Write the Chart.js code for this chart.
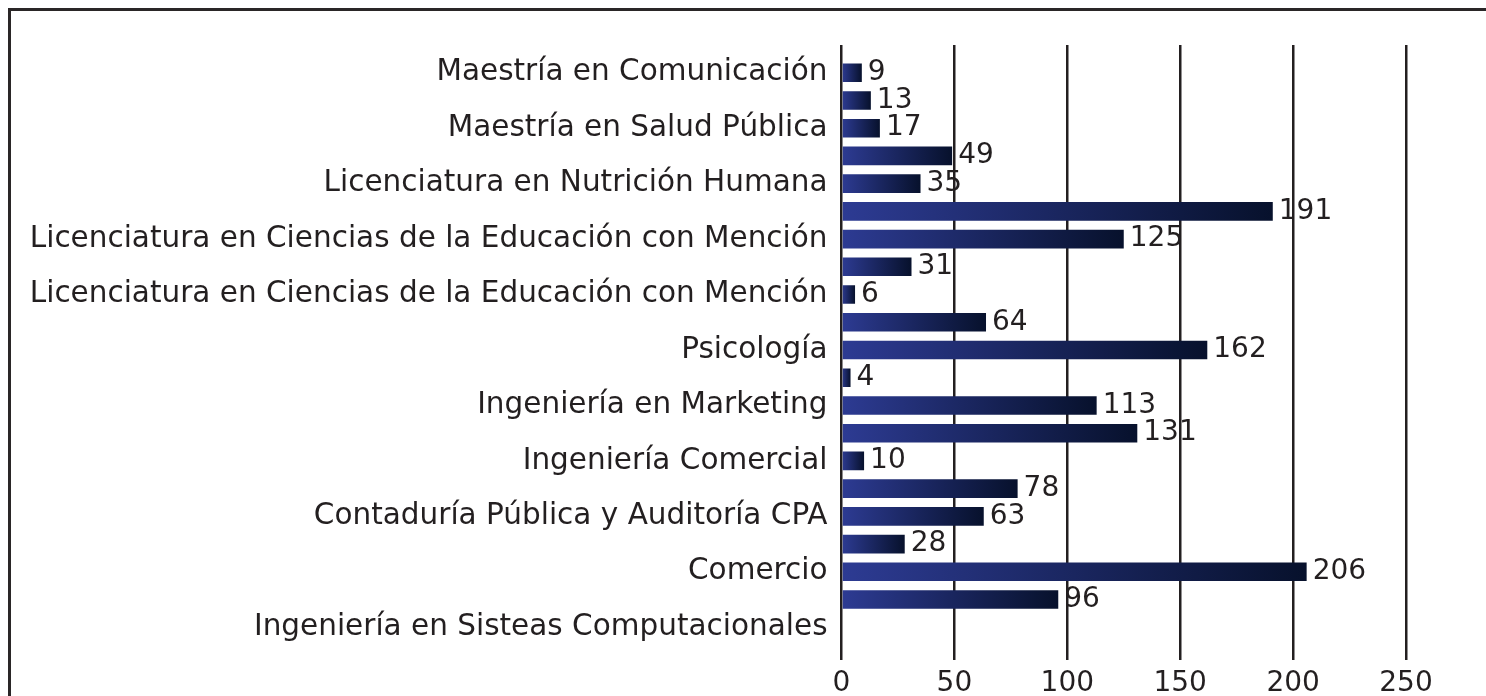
<!DOCTYPE html>
<html>
<head>
<meta charset="utf-8">
<script src="https://cdn.jsdelivr.net/npm/chart.js@4.4.0/dist/chart.umd.min.js"></script>
<style>
  body { margin: 0; background: #fff; overflow: hidden; }
  #frame { position: absolute; left: 8px; top: 8px; width: 1600px; height: 800px; border: 3px solid #2a2627; box-sizing: border-box; }
  #chart { position: absolute; left: 0; top: 0; }
</style>
</head>
<body>
<div id="frame"></div>
<canvas id="chart" width="1486" height="696"></canvas>
<script>
  const categories = [
    'Maestría en Comunicación',
    'Maestría en Salud Pública',
    'Licenciatura en Nutrición Humana',
    'Licenciatura en Ciencias de la Educación con Mención',
    'Licenciatura en Ciencias de la Educación con Mención',
    'Psicología',
    'Ingeniería en Marketing',
    'Ingeniería Comercial',
    'Contaduría Pública y Auditoría CPA',
    'Comercio',
    'Ingeniería en Sisteas Computacionales'
  ];
  // the bar just above each label, and the bar level with it
  const upperValues = [null, 13, 49, 191, 31, 64, 4, 131, 78, 28, 96];
  const lowerValues = [9, 17, 35, 125, 6, 162, 113, 10, 63, 206, null];
  const xTicks = [0, 50, 100, 150, 200, 250];

  const FONT = 'DejaVu Sans';
  const textColor = '#231f20';

  // one row per bar, labels only on the lower bar of each pair
  const rowLabels = [];
  const rowValues = [];
  categories.forEach(function(c, i) {
    rowLabels.push('', c);
    rowValues.push(upperValues[i], lowerValues[i]);
  });
  rowLabels.push('');
  rowValues.push(null);

  const valueLabels = {
    id: 'valueLabels',
    afterDatasetsDraw: function(chart) {
      const ctx = chart.ctx;
      const meta = chart.getDatasetMeta(0);
      ctx.save();
      ctx.font = '28px "' + FONT + '"';
      ctx.fillStyle = textColor;
      ctx.textAlign = 'left';
      ctx.textBaseline = 'middle';
      meta.data.forEach(function(bar, i) {
        const v = rowValues[i];
        if (v == null) return;
        ctx.fillText(String(v), bar.x + 6, bar.y);
      });
      ctx.restore();
    }
  };

  new Chart(document.getElementById('chart'), {
    type: 'bar',
    data: {
      labels: rowLabels,
      datasets: [{
        data: rowValues,
        categoryPercentage: 1,
        barPercentage: 0.67,
        backgroundColor: function(context) {
          const chart = context.chart;
          const v = context.raw;
          if (!chart.chartArea || v == null) return '#2b3990';
          const xs = chart.scales.x;
          const g = chart.ctx.createLinearGradient(xs.getPixelForValue(0), 0, xs.getPixelForValue(v), 0);
          g.addColorStop(0, '#2d3b93');
          g.addColorStop(1, '#07112c');
          return g;
        }
      }]
    },
    options: {
      indexAxis: 'y',
      responsive: false,
      animation: false,
      layout: { padding: { top: 45, right: 80, bottom: 0, left: 0 } },
      plugins: {
        legend: { display: false },
        tooltip: { enabled: false }
      },
      scales: {
        x: {
          min: 0,
          max: 250,
          afterBuildTicks: function(scale) {
            scale.ticks = xTicks.map(function(v) { return { value: v }; });
          },
          afterFit: function(scale) { scale.height = 41; },
          border: { display: false },
          grid: { color: '#231f20', lineWidth: 2.5, tickLength: 5, drawTicks: true },
          ticks: { color: textColor, padding: 7, font: { family: FONT, size: 28 }, maxRotation: 0 }
        },
        y: {
          offset: false,
          afterFit: function(scale) { scale.width = 841.5; },
          border: { display: false },
          grid: { display: false, drawTicks: false },
          ticks: { color: textColor, padding: 14, autoSkip: false, font: { family: FONT, size: 29.5 } }
        }
      }
    },
    plugins: [valueLabels]
  });
</script>
</body>
</html>
